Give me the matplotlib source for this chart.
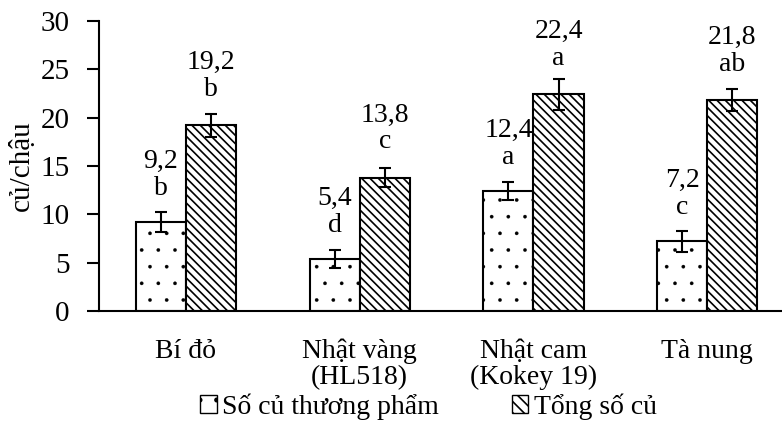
import numpy as np
import matplotlib.pyplot as plt
from matplotlib.patches import Patch

categories = ["Bí đỏ", "Nhật vàng\n(HL518)", "Nhật cam\n(Kokey 19)", "Tà nung"]
thuong_pham = [9.2, 5.4, 12.4, 7.2]
thuong_pham_err = [1.0, 0.95, 0.95, 1.05]
thuong_pham_sig = ["b", "d", "a", "c"]
tong_so = [19.2, 13.8, 22.4, 21.8]
tong_so_err = [1.2, 1.0, 1.6, 1.15]
tong_so_sig = ["b", "c", "a", "ab"]
series_names = ["Số củ thương phẩm", "Tổng số củ"]

plt.rcParams["font.family"] = ["Liberation Serif", "DejaVu Serif"]
plt.rcParams["hatch.color"] = "black"
plt.rcParams["hatch.linewidth"] = 1.2

fig = plt.figure(figsize=(7.82, 4.30), dpi=100)
ax = fig.add_axes([0.1266, 0.2767, 0.8734, 0.6744])

x = np.arange(len(categories))
w = 0.288
fs = 20
ekw = dict(ecolor="black", elinewidth=1.5, capsize=4, capthick=1.5)

b1 = ax.bar(x - w / 2, thuong_pham, w, color="white", edgecolor="black",
            linewidth=1.5, hatch=".", yerr=thuong_pham_err, error_kw=ekw)
b2 = ax.bar(x + w / 2, tong_so, w, color="white", edgecolor="black",
            linewidth=1.5, hatch="\\\\\\\\", yerr=tong_so_err, error_kw=ekw)
h1 = Patch(facecolor="white", edgecolor="black", hatch=".", linewidth=1.0)
h2 = Patch(facecolor="white", edgecolor="black", hatch="\\\\\\", linewidth=1.0)

# thinner hatch for the dotted series (small dots)
for p in list(b1) + [h1]:
    if hasattr(p, "set_hatch_linewidth"):
        p.set_hatch_linewidth(0.2)

def fmt(v):
    return f"{v:.1f}".replace(".", ",")

for xi, v, s in zip(x - w / 2, thuong_pham, thuong_pham_sig):
    ax.text(xi, v + 2.2, f"{fmt(v)}\n{s}", ha="center", va="bottom",
            fontsize=fs, linespacing=1.1)
for xi, v, s in zip(x + w / 2, tong_so, tong_so_sig):
    ax.text(xi, v + 2.4, f"{fmt(v)}\n{s}", ha="center", va="bottom",
            fontsize=fs, linespacing=1.1)

ax.set_xlim(-0.5, 3.43)
ax.set_ylim(0, 30)
ax.set_yticks(range(0, 31, 5))
ax.set_xticks(x)
ax.set_xticklabels(categories, fontsize=fs, linespacing=1.05)
ax.tick_params(axis="x", length=0, pad=20)
ax.tick_params(axis="y", direction="out", length=9, width=1.5, labelsize=21, pad=12)
for side in ["top", "right"]:
    ax.spines[side].set_visible(False)
for side in ["left", "bottom"]:
    ax.spines[side].set_linewidth(1.5)
ax.set_ylabel("củ/chậu", fontsize=21, labelpad=4)

fig.legend([h1, h2], series_names, loc="lower center", bbox_to_anchor=(0.548, -0.035),
           ncol=2, frameon=False, fontsize=20, handlelength=0.6, handleheight=0.6,
           handletextpad=0.2, columnspacing=2.6)

plt.savefig("out.png", dpi=100)
